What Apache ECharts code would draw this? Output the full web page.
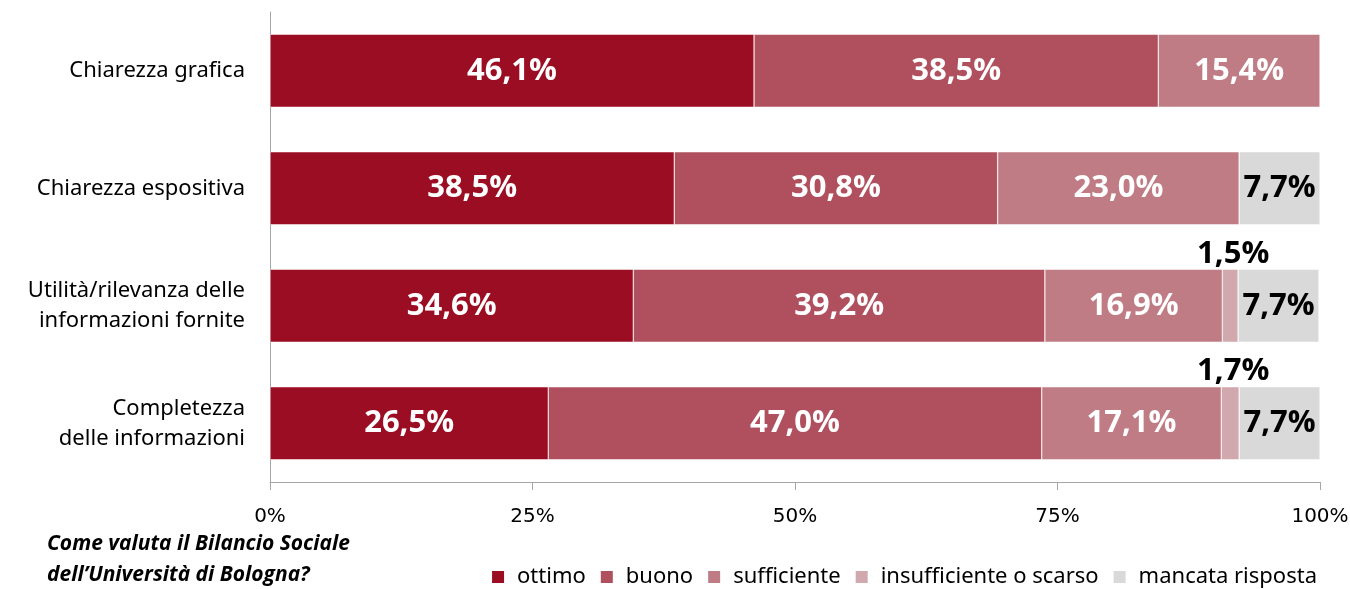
<!DOCTYPE html>
<html><head><meta charset="utf-8">
<script src="https://cdn.jsdelivr.net/npm/echarts@6/dist/echarts.min.js"></script>
<style>html,body{margin:0;padding:0;background:#fff}#c{width:1350px;height:589px}</style>
</head><body><div id="c"></div>
<script>
const categories = ['Chiarezza grafica','Chiarezza espositiva','Utilità/rilevanza delle\ninformazioni fornite','Completezza\ndelle informazioni'];
const seriesNames = ['ottimo','buono','sufficiente','insufficiente o scarso','mancata risposta'];
const ottimo = [46.1, 38.5, 34.6, 26.5];
const buono = [38.5, 30.8, 39.2, 47.0];
const sufficiente = [15.4, 23.0, 16.9, 17.1];
const insufficiente = [0, 0, 1.5, 1.7];
const mancata = [0, 7.7, 7.7, 7.7];
const tickLabels = ['0%','25%','50%','75%','100%'];
const colors = ['#9B0D22','#B0505E','#C07C85','#D0A8AE','#D9D9D9'];

const chart = echarts.init(document.getElementById('c'));
const fmt = p => p.value ? p.value.toFixed(1).replace('.', ',') + '%' : '';
const labelFont = {fontFamily:'Open Sans', fontWeight:'bold', fontSize:31};
function mk(name, data, i){
  const s = {name, type:'bar', stack:'t', data: data.map(v=>v||null), barWidth:73,
    itemStyle:{color:colors[i], borderColor:'#fff', borderWidth:0.5},
    label:Object.assign({show:true, formatter:fmt, color:'#fff', position:'inside'}, labelFont)};
  if(i===3){ s.label.position='top'; s.label.color='#000'; s.label.distance=0; s.label.offset=[3,0]; }
  if(i===4){ s.label.color='#000'; }
  return s;
}
const series = [ottimo,buono,sufficiente,insufficiente,mancata].map((d,i)=>mk(seriesNames[i], d, i));
chart.setOption({
  animation:false,
  color: colors,
  grid:{left:270, right:30, top:12, bottom:107, containLabel:false, outerBoundsMode:'none'},
  xAxis:{type:'value', min:0, max:100, interval:25,
    axisLine:{show:true, lineStyle:{color:'#A6A6A6', width:1}},
    axisTick:{show:true, length:8, lineStyle:{color:'#A6A6A6'}},
    splitLine:{show:false},
    axisLabel:{formatter: v => tickLabels[v/25], margin:25, fontFamily:'DejaVu Sans', fontSize:20, color:'#000'}},
  yAxis:{type:'category', data:categories, inverse:true,
    axisLine:{show:true, lineStyle:{color:'#A6A6A6', width:1}},
    axisTick:{show:false},
    axisLabel:{margin:25, fontFamily:'Noto Sans', fontSize:22, color:'#000', lineHeight:30, align:'right'}},
  legend:{data:seriesNames, right:28, top:561, itemWidth:14, itemHeight:14, itemGap:13, icon:'rect',
    textStyle:{fontFamily:'Noto Sans', fontSize:22, color:'#000', padding:[0,0,0,7]}},
  title:{text:"Come valuta il Bilancio Sociale\ndell’Università di Bologna?", left:42, top:524,
    textStyle:{fontFamily:'Open Sans', fontStyle:'italic', fontWeight:'bold', fontSize:21, lineHeight:31, color:'#000'}},
  series
});
</script></body></html>
